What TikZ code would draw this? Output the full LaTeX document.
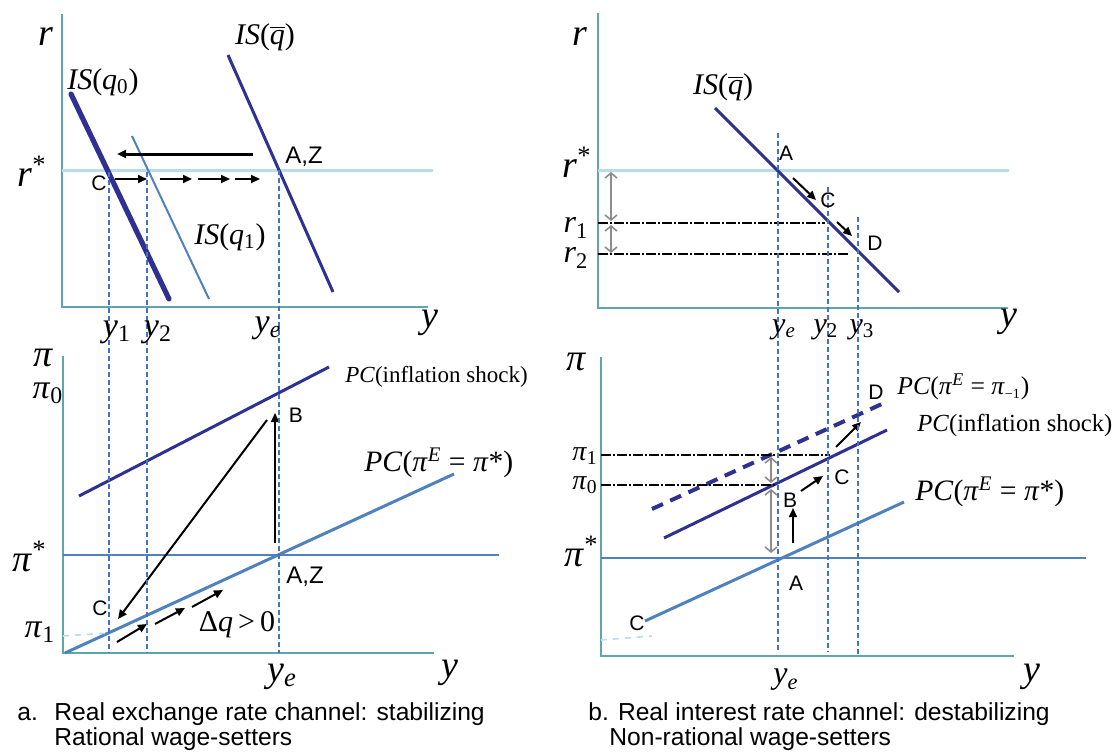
\documentclass[tikz,border=0pt]{standalone}
\usepackage{fontspec}
\setmainfont{Liberation Serif}
\newfontfamily\ptfont{Liberation Sans}
\usetikzlibrary{arrows.meta}
\definecolor{isnavy}{RGB}{46,49,146}
\definecolor{pcblue}{RGB}{79,129,189}
\definecolor{rstarcyan}{RGB}{183,221,232}
\definecolor{axisteal}{RGB}{95,165,175}
\definecolor{guideblue}{RGB}{68,114,196}
\definecolor{gapgray}{RGB}{140,140,140}
\newcommand{\qbr}{\(\overline{\mbox{\itshape q}}\)}
\begin{document}
\begin{tikzpicture}[x=0.5pt,y=-0.5pt]
	\tikzset{axis/.style={draw=axisteal,line width=0.8pt},
	         isl/.style={draw=isnavy,line width=1.5pt},
	         pcl/.style={draw=pcblue,line width=1.5pt},
	         starl/.style={draw=rstarcyan,line width=1.5pt},
	         guide/.style={draw=guideblue,line width=0.6pt,dash pattern=on 2.5pt off 1.5pt},
	         lev/.style={draw=black,line width=1.1pt,dash pattern=on 5pt off 1pt on 1pt off 1pt},
	         arr/.style={draw=black,line width=1pt,-{Triangle[length=4.5pt,width=4pt]}},
	         gap/.style={draw=gapgray,line width=0.8pt,{Straight Barb[length=2.5pt,width=6pt]}-{Straight Barb[length=2.5pt,width=6pt]}},
	         axl/.style={font=\fontsize{19}{19}\selectfont,inner sep=0pt},
	         curl/.style={font=\fontsize{15}{15}\selectfont,inner sep=0pt},
	         ptl/.style={font=\ptfont\fontsize{10.5}{10.5}\selectfont,inner sep=0pt},
	         capt/.style={font=\ptfont\fontsize{12.3}{12.8}\selectfont,inner sep=0pt,align=left,anchor=north west}}
	\useasboundingbox (0,0) rectangle (1114,755);
	% a. real exchange rate channel
	\coordinate (aTop) at (62,14);
	\coordinate (aO) at (62,307);
	\coordinate (aEnd) at (428,307);
	\coordinate (aRs) at (62,170);
	\coordinate (aRe) at (433,170);
	\draw[axis] (aTop)--(aO)--(aEnd);
	\draw[starl] (aRs)--(aRe);
	\coordinate (q0a) at (71,94);   \coordinate (q0b) at (169,299);
	\coordinate (q1a) at (132,136); \coordinate (q1b) at (209,299);
	\coordinate (qba) at (228,55);  \coordinate (qbb) at (333,292);
	\draw[isl,line width=2.6pt,line cap=round] (q0a)--(q0b);
	\draw[draw=pcblue,line width=1pt] (q1a)--(q1b);
	\draw[isl] (qba)--(qbb);
	\coordinate (lngA) at (253,154); \coordinate (lngB) at (117,154);
	\draw[arr,line width=1.5pt] (lngA)--(lngB);
	\foreach \xa/\xb in {115/147,160/192,198/230,235/260}
		\draw[arr] (\xa,179)--(\xb,179);
	\coordinate (bPi) at (63,356);
	\coordinate (bO) at (63,653);
	\coordinate (bEnd) at (434,653);
	\coordinate (bSs) at (63,555);
	\coordinate (bSe) at (499,555);
	\draw[axis] (bPi)--(bO)--(bEnd);
	\draw[draw=pcblue,line width=1.3pt] (bSs)--(bSe);
	\coordinate (pcA) at (65,653);  \coordinate (pcB) at (454,474);
	\coordinate (shA) at (79,496);  \coordinate (shB) at (329,367);
	\draw[pcl] (pcA)--(pcB);
	\draw[isl] (shA)--(shB);
	\coordinate (pOne) at (63,636); \coordinate (pOneC) at (109,633);
	\draw[draw=rstarcyan,line width=0.8pt,dashed] (pOne)--(pOneC);
	\coordinate (upA) at (275,543); \coordinate (upB) at (275,413);
	\coordinate (dnA) at (267,420); \coordinate (dnB) at (118,619);
	\draw[arr] (upA)--(upB);
	\draw[arr] (dnA)--(dnB);
	\draw[arr] (117,642)--(147,624);
	\draw[arr] (155,624)--(185,608);
	\draw[arr] (192,607)--(223,590);
	\foreach \gx/\gy in {109/172,147/172,279/170}
		\draw[guide] (\gx,\gy)--(\gx,653);
	% labels, panel a
	\node[axl] (lr) at (46,37) {\textit{r}};
	\node[axl,anchor=base west] (lrs) at (17,186) {\textit{r}\textsuperscript{*}};
	\node[curl] (lqb) at (265,37) {\textit{IS}(\qbr)};
	\node[curl] (lq0) at (103,82) {\textit{IS}(\textit{q}\textsubscript{0})};
	\node[curl] (lq1) at (230,237) {\textit{IS}(\textit{q}\textsubscript{1})};
	\node[ptl,font=\ptfont\fontsize{12}{12}\selectfont] (laz) at (304,157) {A,Z};
	\node[ptl] (lc) at (99,183) {C};
	\node[axl,font=\fontsize{17}{17}\selectfont] (ly1) at (117,332) {\textit{y}\textsubscript{1}};
	\node[axl,font=\fontsize{17}{17}\selectfont] (ly2) at (158,332) {\textit{y}\textsubscript{2}};
	\node[axl,font=\fontsize{17}{17}\selectfont] (lye) at (268,328) {\textit{y}\textsubscript{\textit{e}}};
	\node[axl] (ly) at (430,323) {\textit{y}};
	\node[axl] (lpi) at (43,358) {\textit{π}};
	\node[axl,font=\fontsize{17}{17}\selectfont] (lp0) at (48,393) {\textit{π}\textsubscript{0}};
	\node[axl,anchor=base west] (lps) at (12,571) {\textit{π}\textsuperscript{*}};
	\node[axl,font=\fontsize{17}{17}\selectfont] (lp1) at (40,632) {\textit{π}\textsubscript{1}};
	\node[font=\fontsize{11.5}{11.5}\selectfont,inner sep=0pt,anchor=west] (lsh) at (345,377) {\textit{PC}(inflation shock)};
	\node[font=\fontsize{14.8}{14.8}\selectfont,inner sep=0pt,anchor=west] (lpc) at (364,463) {\textit{PC}(\textit{π}\textsuperscript{\textit{E}} = \textit{π}*)};
	\node[ptl] (lb) at (296,415) {B};
	\node[ptl] (lc2) at (100,608) {C};
	\node[ptl,font=\ptfont\fontsize{12}{12}\selectfont] (laz2) at (305,577) {A,Z};
	\node[font=\fontsize{15}{15}\selectfont,inner sep=0pt] (ldq) at (237,625) {Δ\textit{q}\,>\,0};
	\node[axl] (lye2) at (282,677) {\textit{y}\textsubscript{\textit{e}}};
	\node[axl] (ly2b) at (450,673) {\textit{y}};
	% b. real interest rate channel
	\coordinate (cTop) at (598,13);
	\coordinate (cO) at (598,308);
	\coordinate (cEnd) at (1008,308);
	\coordinate (cRs) at (598,170);
	\coordinate (cRe) at (1009,170);
	\draw[axis] (cTop)--(cO)--(cEnd);
	\draw[starl] (cRs)--(cRe);
	\coordinate (isA) at (715,108); \coordinate (isB) at (899,292);
	\draw[isl] (isA)--(isB);
	\draw[lev] (598,223)--(825,223);
	\draw[lev] (598,254)--(848,254);
	\draw[gap] (611,172)--(611,221);
	\draw[gap] (611,225)--(611,253);
	\draw[arr] (793,178)--(816,200);
	\draw[arr] (837,222)--(852,236);
	\coordinate (dPi) at (601,357);
	\coordinate (dO) at (601,656);
	\coordinate (dEnd) at (1014,656);
	\coordinate (dSs) at (601,558);
	\coordinate (dSe) at (1086,558);
	\draw[axis] (dPi)--(dO)--(dEnd);
	\draw[draw=pcblue,line width=1.3pt] (dSs)--(dSe);
	\coordinate (rpcA) at (645,621); \coordinate (rpcB) at (904,502);
	\coordinate (rshA) at (664,538); \coordinate (rshB) at (887,430);
	\coordinate (rexA) at (652,509); \coordinate (rexB) at (884,403);
	\draw[pcl] (rpcA)--(rpcB);
	\draw[isl] (rshA)--(rshB);
	\draw[isl,line width=2pt,dash pattern=on 6pt off 4pt] (rexA)--(rexB);
	\draw[lev] (601,455)--(830,455);
	\draw[lev] (601,485)--(777,485);
	\draw[gap] (771,457)--(771,483);
	\draw[gap] (771,489)--(771,553);
	\draw[arr] (793,543)--(793,508);
	\draw[arr] (801,491)--(823,476);
	\draw[arr] (836,447)--(861,422);
	\draw[draw=rstarcyan,line width=0.8pt,dashed] (601,640)--(652,636);
	\draw[guide] (778,133)--(778,653);
	\draw[guide] (828,187)--(828,652);
	\draw[guide] (858,217)--(858,656);
	% labels, panel b
	\node[axl] (rr) at (580,37) {\textit{r}};
	\node[curl] (rqb) at (723,87) {\textit{IS}(\qbr)};
	\node[axl,anchor=base west] (rrs) at (562,177) {\textit{r}\textsuperscript{*}};
	\node[axl,font=\fontsize{16}{16}\selectfont] (rr1) at (576,228) {\textit{r}\textsubscript{1}};
	\node[axl,font=\fontsize{16}{16}\selectfont] (rr2) at (576,258) {\textit{r}\textsubscript{2}};
	\node[ptl] (ra) at (786,153) {A};
	\node[ptl] (rc) at (828,200) {C};
	\node[ptl] (rd) at (875,243) {D};
	\node[axl,font=\fontsize{15}{15}\selectfont] (rye) at (784,330) {\textit{y}\textsubscript{\textit{e}}};
	\node[axl,font=\fontsize{15}{15}\selectfont] (ry2) at (826,330) {\textit{y}\textsubscript{2}};
	\node[axl,font=\fontsize{15}{15}\selectfont] (ry3) at (862,330) {\textit{y}\textsubscript{3}};
	\node[axl] (ry) at (1009,322) {\textit{y}};
	\node[axl] (rpi) at (576,362) {\textit{π}};
	\node[axl,font=\fontsize{14}{14}\selectfont] (rp1) at (585,456) {\textit{π}\textsubscript{1}};
	\node[axl,font=\fontsize{14}{14}\selectfont] (rp0) at (585,485) {\textit{π}\textsubscript{0}};
	\node[axl,anchor=base west] (rps) at (564,566) {\textit{π}\textsuperscript{*}};
	\node[ptl] (rd2) at (876,392) {D};
	\node[ptl] (rc2) at (842,477) {C};
	\node[ptl] (rb) at (790,500) {B};
	\node[ptl] (ra2) at (796,583) {A};
	\node[ptl] (rc3) at (637,623) {C};
	\node[font=\fontsize{12.8}{12.8}\selectfont,inner sep=0pt,anchor=west] (rpl) at (897,387) {\textit{PC}(\textit{π}\textsuperscript{\textit{E}} = \textit{π}\textsubscript{\scriptsize −1})};
	\node[font=\fontsize{12.3}{12.3}\selectfont,inner sep=0pt,anchor=west] (rsh) at (917,425) {\textit{PC}(inflation shock)};
	\node[font=\fontsize{14.8}{14.8}\selectfont,inner sep=0pt,anchor=west] (rpc) at (915,492) {\textit{PC}(\textit{π}\textsuperscript{\textit{E}} = \textit{π}*)};
	\node[axl,font=\fontsize{16}{16}\selectfont] (rye2) at (786,680) {\textit{y}\textsubscript{\textit{e}}};
	\node[axl] (ry4) at (1032,677) {\textit{y}};
	% captions
	\node[capt] (capa) at (17,702) {\makebox[18.5pt][l]{a.}Real exchange rate channel: stabilizing\\\hspace*{18.5pt}Rational wage-setters};
	\node[capt] (capb) at (588,702) {b. Real interest rate channel: destabilizing\\\hspace*{10.5pt}Non-rational wage-setters};
\end{tikzpicture}
\end{document}
